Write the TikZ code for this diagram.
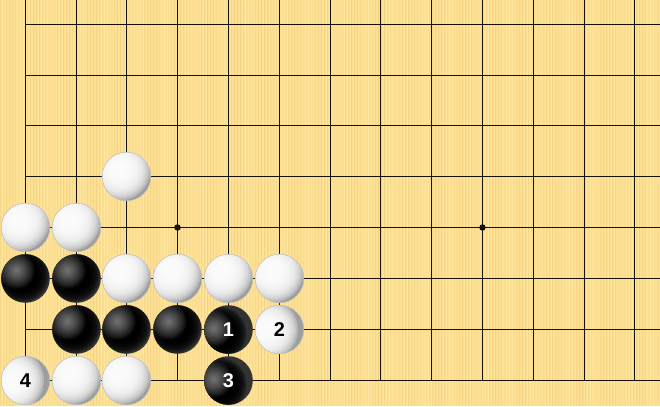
\documentclass[tikz,border=0pt]{standalone}
\usepackage{fontspec}
\newfontfamily\labfont{Liberation Sans}
\definecolor{board}{RGB}{252,223,146}
\definecolor{stripe}{RGB}{242,205,120}
\definecolor{stripelight}{RGB}{255,236,170}
\definecolor{gridline}{RGB}{20,16,10}
\tikzset{
  gridl/.style={draw=gridline, line width=1.25bp},
  edgel/.style={draw=gridline, line width=1.8bp},
  stonebase/.style={circle, minimum size=48.6bp, inner sep=0pt,
    font=\labfont\bfseries\fontsize{20}{20}\selectfont},
  bstone/.style={stonebase, fill=black!80, text=white,
    path picture={
      \begin{scope}[shift={(path picture bounding box.center)}]
        \foreach \s in {1,...,9}
          \fill[black, opacity=0.3] (-3bp,3bp) circle ({28bp-\s*1.5bp});
        \foreach \s in {1,...,14}
          \fill[white, opacity=0.042] (-9bp,8bp) circle ({\s*1.3bp});
      \end{scope}}},
  wstone/.style={stonebase, fill=black!38, text=black, draw=black!25, line width=0.5bp,
    path picture={
      \begin{scope}[shift={(path picture bounding box.center)}]
        \foreach \s in {1,...,13}
          \fill[white, opacity=0.26] (-7bp,7bp) circle ({33bp-\s*2bp});
      \end{scope}}},
  starpt/.style={circle, fill=gridline, minimum size=6.5bp, inner sep=0pt},
}
\begin{document}
\begin{tikzpicture}[x=1bp, y=-1bp]
\useasboundingbox (0,0) rectangle (660,406);
\fill[board] (0,0) rectangle (660,406);
\foreach \i in {0,...,219} {
  \pgfmathsetmacro\op{0.35+0.3*sin(\i*37.7)}
  \fill[stripe, opacity=\op] (\i*3,0) rectangle (\i*3+1.1,406);
  \pgfmathsetmacro\oq{0.4+0.3*cos(\i*53.3)}
  \fill[stripelight, opacity=\oq] (\i*3+1.6,0) rectangle (\i*3+2.4,406);
}
% grid
\foreach \x in {76.5,126.5,177.5,228.5,279.5,330.5,380.5,431.5,482.5,533.5,584.5,634.5}
  \draw[gridl] (\x,0) -- (\x,380.5);
\foreach \y in {24.5,75.5,125.5,176.5,227.5,278.5,329.5}
  \draw[gridl] (25.5,\y) -- (660,\y);
\draw[edgel] (25.5,0) -- (25.5,380.5) -- (660,380.5);
\node[starpt] (hoshiA) at (177.5,227.5) {};
\node[starpt] (hoshiB) at (482.5,227.5) {};
% stones
\node[wstone] (w24) at (126.5,176.5) {};
\node[wstone] (w03) at (25.5,227.5) {};
\node[wstone] (w13) at (76.5,227.5) {};
\node[bstone] (b02) at (25.5,278.5) {};
\node[bstone] (b12) at (76.5,278.5) {};
\node[wstone] (w22) at (126.5,278.5) {};
\node[wstone] (w32) at (177.5,278.5) {};
\node[wstone] (w42) at (228.5,278.5) {};
\node[wstone] (w52) at (279.5,278.5) {};
\node[bstone] (b11) at (76.5,329.5) {};
\node[bstone] (b21) at (126.5,329.5) {};
\node[bstone] (b31) at (177.5,329.5) {};
\node[bstone] (m1) at (228.5,329.5) {1};
\node[wstone] (m2) at (279.5,329.5) {2};
\node[wstone] (m4) at (25.5,380.5) {4};
\node[wstone] (w10) at (76.5,380.5) {};
\node[wstone] (w20) at (126.5,380.5) {};
\node[bstone] (m3) at (228.5,380.5) {3};
\end{tikzpicture}
\end{document}
